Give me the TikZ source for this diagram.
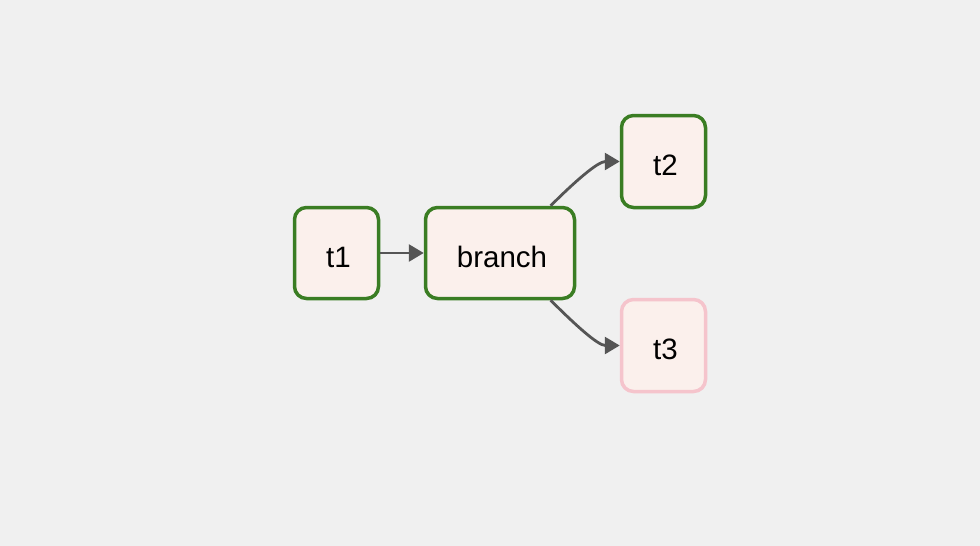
\documentclass[tikz,border=0pt]{standalone}
\usepackage{fontspec}
\setmainfont{Liberation Sans}
\usetikzlibrary{arrows.meta}
\definecolor{bg}{HTML}{F0F0F0}
\definecolor{okgreen}{HTML}{3A7D23}
\definecolor{taskfill}{HTML}{FBF0EC}
\definecolor{skippink}{HTML}{F5C4CC}
\definecolor{edgegray}{HTML}{555555}
\tikzset{
  task/.style={draw=okgreen, line width=3.5pt, fill=taskfill, rounded corners=12pt,
    minimum height=91pt, inner sep=0pt, font=\fontsize{29.5}{32}\selectfont, text=black,
    text height=28pt, text depth=0pt, execute at begin node={\hspace*{4pt}}},
  skipped/.style={task, draw=skippink},
  flow/.style={draw=edgegray, line width=2.8pt, -{Triangle[length=15pt,width=17pt]}}
}
\begin{document}
\begin{tikzpicture}[x=1pt,y=-1pt]
\useasboundingbox[fill=bg] (0,0) rectangle (980,546);
\node[task, minimum width=84pt] (t1) at (336.5,253) {t1};
\node[task, minimum width=149pt] (branch) at (500,253) {branch};
\node[task, minimum width=84pt, minimum height=92pt] (t2) at (663.5,161.5) {t2};
\node[skipped, minimum width=84pt, minimum height=92pt] (t3) at (663.5,345.5) {t3};
\draw[flow] (t1.east) -- (branch.west);
\draw[flow] (branch.43) .. controls +(24,-24) and +(-22,0) .. (t2.west);
\draw[flow] (branch.-43) .. controls +(24,24) and +(-22,0) .. (t3.west);
\end{tikzpicture}
\end{document}
